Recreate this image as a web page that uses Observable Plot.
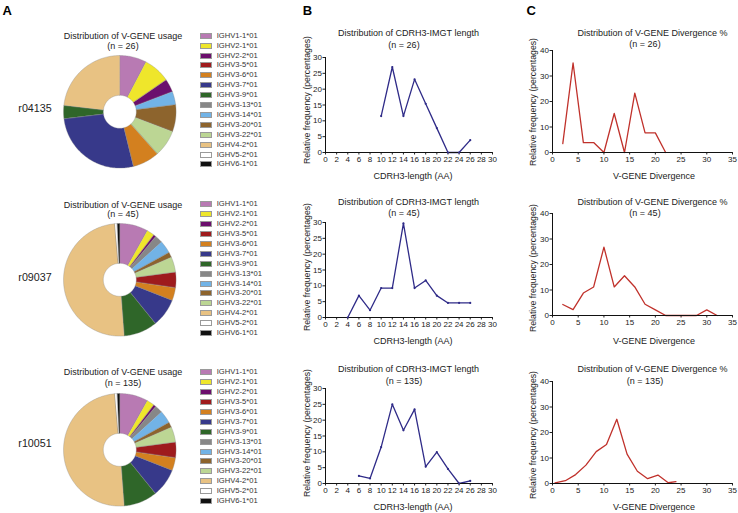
<!DOCTYPE html>
<html>
<head>
<meta charset="utf-8">
<script src="https://cdn.jsdelivr.net/npm/d3@7"></script>
<script src="https://cdn.jsdelivr.net/npm/@observablehq/plot@0.6"></script>
<style>
  html, body { margin: 0; padding: 0; background: #fff; }
  #fig { position: relative; width: 738px; height: 513px; overflow: hidden; background: #fff;
         font-family: "Liberation Sans", Arial, Helvetica, sans-serif; color: #222; }
  .t { position: absolute; white-space: nowrap; line-height: 1; transform: translate(-50%, -50%); }
  .abs { position: absolute; }
  .abs svg { overflow: visible; }
</style>
</head>
<body>
<div id="fig"></div>
<script>
// ---------------- DATA ----------------
const samples = ["r04135", "r09037", "r10051"];
const sampleN = [26, 45, 135];

// V-gene names (legend order) and colours
const genes = ["IGHV1-1*01","IGHV2-1*01","IGHV2-2*01","IGHV3-5*01","IGHV3-6*01","IGHV3-7*01","IGHV3-9*01",
               "IGHV3-13*01","IGHV3-14*01","IGHV3-20*01","IGHV3-22*01","IGHV4-2*01","IGHV5-2*01","IGHV6-1*01"];
const geneColors = ["#b87ab3","#efe62b","#6b0f6d","#9e1b1d","#d3801f","#37398a","#2f6629",
                    "#878787","#72b3e6","#8d642d","#bcd694","#e8c283","#ffffff","#111111"];

// V-gene usage (percent), legend order
const usage_r04135 = [7.7, 7.7, 3.8, 0, 7.7, 26.9, 3.8, 0, 3.8, 7.7, 7.7, 23.1, 0, 0];
const usage_r09037 = [8.1, 2.2, 0.7, 4.4, 3.7, 8.1, 9.6, 2.2, 3.7, 1.5, 4.4, 49.6, 0.7, 0.7];
const usage_r10051 = [8.1, 2.2, 0.7, 4.4, 3.7, 8.1, 9.6, 2.2, 3.7, 1.5, 4.4, 49.6, 0.7, 0.7];

// CDRH3 length distributions
const cdrLen_r04135  = [10, 12, 14, 16, 18, 20, 22, 24, 26];
const cdrFreq_r04135 = [11.5, 27.0, 11.5, 23.1, 15.4, 7.7, 0, 0, 3.9];
const cdrLen_r09037  = [4, 6, 8, 10, 12, 14, 16, 18, 20, 22, 24, 26];
const cdrFreq_r09037 = [0, 6.9, 2.3, 9.3, 9.3, 29.7, 9.3, 11.7, 6.9, 4.6, 4.6, 4.6];
const cdrLen_r10051  = [6, 8, 10, 12, 14, 16, 18, 20, 22, 24, 26];
const cdrFreq_r10051 = [2.4, 1.6, 11.5, 25.0, 16.8, 23.4, 5.3, 9.9, 4.6, 0, 0.8];

// V-gene divergence distributions
const div_r04135  = [2, 4, 6, 8, 10, 12, 14, 16, 18, 20, 22];
const divFreq_r04135 = [3.5, 35.1, 3.9, 3.9, 0, 15.3, 0, 23.3, 7.7, 7.7, 0];
const div_r09037  = [2, 4, 6, 8, 10, 12, 14, 16, 18, 20, 22, 24, 26, 28, 30, 32];
const divFreq_r09037 = [4.3, 2.3, 8.8, 11.2, 26.8, 11.2, 15.6, 11.2, 4.4, 2.2, 0, 0, 0, 0, 2.2, 0];
const div_r10051  = [0.5, 2.5, 4.5, 6.5, 8.5, 10.5, 12.5, 14.5, 16.5, 18.5, 20.5, 22.5, 24];
const divFreq_r10051 = [0.2, 1.1, 3.5, 7.2, 12.5, 15.3, 25.2, 11.5, 4.8, 1.9, 3.3, 0.3, 0.7];

// Tick labels
const cdrXTicks = d3.range(0, 31, 2);
const cdrYTicks = d3.range(0, 31, 5);
const divXTicks = d3.range(0, 36, 5);
const divYTicks = d3.range(0, 41, 10);

// Texts
const pieTitle = "Distribution of V-GENE usage";
const cdrTitle = "Distribution of CDRH3-IMGT length";
const divTitle = "Distribution of V-GENE Divergence %";
const cdrXLabel = "CDRH3-length (AA)";
const divXLabel = "V-GENE Divergence";
const yLabel = "Relative frequency (percentages)";

// ---------------- LAYOUT ----------------
const FONT = '"Liberation Sans", Arial, Helvetica, sans-serif';
const fig = document.getElementById("fig");
function txt(s, x, y, size, extra = {}) {
  const d = document.createElement("div");
  d.className = "t";
  d.textContent = s;
  d.style.left = x + "px";
  d.style.top = y + "px";
  d.style.fontSize = size + "px";
  Object.assign(d.style, extra);
  fig.appendChild(d);
  return d;
}
function place(node, left, top) {
  const w = document.createElement("div");
  w.className = "abs";
  w.style.left = left + "px";
  w.style.top = top + "px";
  w.appendChild(node);
  fig.appendChild(w);
}

const usage = [usage_r04135, usage_r09037, usage_r10051];
const cdrX = [cdrLen_r04135, cdrLen_r09037, cdrLen_r10051];
const cdrY = [cdrFreq_r04135, cdrFreq_r09037, cdrFreq_r10051];
const divX = [div_r04135, div_r09037, div_r10051];
const divY = [divFreq_r04135, divFreq_r09037, divFreq_r10051];

const pieCenters = [[119.5, 111.5], [119.7, 279.2], [119.7, 449.2]];
const pieR = 56.3, pieR0 = 16.5;
const pieTitleY = [36, 205, 372.3], pieNY = [45.7, 214.3, 382.7];
const rowLabelY = [108.3, 276.7, 443.3];
const legendY0 = [35.7, 204.3, 372.3], legendStep = 9.9;

const B = {left: 325, right: 492, rows: [[57, 152], [222, 317], [388, 483]],
           titleY: [33.3, 202.3, 369.3], nY: [44.5, 213.3, 381], xLabY: [176, 341, 506.5], yLabY: [100, 266.7, 433]};
const C = {left: 552, right: 732, rows: [[50, 152], [213, 315], [381, 483]],
           titleY: [33.3, 202.3, 369.3], nY: [44.3, 213, 381], xLabY: [176, 341, 506.7], yLabY: [101.7, 267.5, 435]};

// panel letters
txt("A", 7.2, 10, 13, {fontWeight: "bold", color: "#000"});
txt("B", 307.5, 10, 13, {fontWeight: "bold", color: "#000"});
txt("C", 531.3, 10, 13, {fontWeight: "bold", color: "#000"});

// ---------------- PIE (donut) via Plot.geo ----------------
function ringPoint(a, r) { return [Math.sin(a) * r, -Math.cos(a) * r]; }
function donut(values) {
  // slices drawn clockwise from 12 o'clock in alphabetical gene order
  const order = d3.range(genes.length).sort((i, j) => d3.ascending(genes[i], genes[j]));
  const total = d3.sum(values);
  const k = pieR0 / pieR;
  let acc = 0;
  const features = [];
  for (const i of order) {
    const v = values[i];
    if (!(v > 0)) continue;
    const a0 = acc / total * 2 * Math.PI;
    acc += v;
    const a1 = acc / total * 2 * Math.PI;
    const n = Math.max(2, Math.ceil((a1 - a0) / (Math.PI / 180)));
    const outer = d3.range(n + 1).map(s => ringPoint(a0 + (a1 - a0) * s / n, 1));
    const inner = d3.range(n + 1).map(s => ringPoint(a1 - (a1 - a0) * s / n, k));
    const ring = outer.concat(inner);
    ring.push(ring[0]);
    features.push({type: "Feature", properties: {gene: genes[i], color: geneColors[i]},
                   geometry: {type: "Polygon", coordinates: [ring]}});
  }
  const circle = {type: "Polygon", coordinates: [d3.range(361).map(s => ringPoint(s * Math.PI / 180, 1))]};
  const size = 2 * pieR + 4;
  return Plot.plot({
    width: size, height: size, margin: 2,
    projection: {type: "identity", domain: circle},
    color: {type: "identity"},
    style: {background: "transparent", overflow: "visible"},
    marks: [
      Plot.geo({type: "FeatureCollection", features}, {fill: d => d.properties.color, stroke: "#8a8a8a", strokeWidth: 0.35})
    ]
  });
}

// ---------------- LINE CHARTS ----------------
function linePlot(frame, row, xs, ys, xDomain, yDomain, xTicks, yTicks, color, dots) {
  const [top, bottom] = frame.rows[row];
  const ml = 26, mr = 6, mt = 4, mb = 14;
  const data = xs.map((x, i) => ({x, y: ys[i]}));
  const marks = [
    Plot.axisX({ticks: xTicks, tickSize: 2.5, tickPadding: 1.5, label: null, fontSize: 8}),
    Plot.axisY({ticks: yTicks, tickSize: 2.5, tickPadding: 1, label: null, fontSize: 8}),
    Plot.line(data, {x: "x", y: "y", stroke: color, strokeWidth: 1.3}),
    Plot.ruleX([xDomain[0]], {stroke: "#111", strokeWidth: 1}),
    Plot.ruleY([yDomain[0]], {stroke: "#111", strokeWidth: 1})
  ];
  if (dots) marks.push(Plot.dot(data, {x: "x", y: "y", r: 1.1, fill: color, stroke: null}));
  const p = Plot.plot({
    width: frame.right - frame.left + ml + mr,
    height: bottom - top + mt + mb,
    marginLeft: ml, marginRight: mr, marginTop: mt, marginBottom: mb,
    x: {domain: xDomain},
    y: {domain: yDomain},
    style: {fontFamily: FONT, fontSize: "8px", color: "#222", background: "transparent", overflow: "visible"},
    marks
  });
  place(p, frame.left - ml, top - mt);
}

for (let r = 0; r < 3; r++) {
  // Panel A
  const [cx, cy] = pieCenters[r];
  place(donut(usage[r]), cx - pieR - 2, cy - pieR - 2);
  txt(pieTitle, 123, pieTitleY[r], 9);
  txt(`(n = ${sampleN[r]})`, 123, pieNY[r], 9);
  txt(samples[r], 35, rowLabelY[r], 10.7);
  genes.forEach((g, i) => {
    const y = legendY0[r] + i * legendStep;
    const sw = document.createElement("div");
    sw.className = "abs";
    Object.assign(sw.style, {left: "200px", top: (y - 3) + "px", width: "11.7px", height: "6px",
      background: geneColors[i], boxSizing: "border-box", border: "0.5px solid #9a9a9a"});
    fig.appendChild(sw);
    const t = txt(g, 216.7, y, 7.6, {transform: "translate(0,-50%)", color: "#333"});
  });

  // Panel B
  linePlot(B, r, cdrX[r], cdrY[r], [0, 30], [0, 30], cdrXTicks, cdrYTicks, "#2f2b88", true);
  txt(cdrTitle, 408.5, B.titleY[r], 9);
  txt(`(n = ${sampleN[r]})`, 404, B.nY[r], 9);
  txt(cdrXLabel, 413, B.xLabY[r], 9);
  txt(yLabel, 306.7, B.yLabY[r], 8.7, {transform: "translate(-50%,-50%) rotate(-90deg)"});

  // Panel C
  linePlot(C, r, divX[r], divY[r], [0, 35], [0, 40], divXTicks, divYTicks, "#c0312b", false);
  txt(divTitle, 652.5, C.titleY[r], 9);
  txt(`(n = ${sampleN[r]})`, 645, C.nY[r], 9);
  txt(divXLabel, 654, C.xLabY[r], 9);
  txt(yLabel, 533.3, C.yLabY[r], 8.7, {transform: "translate(-50%,-50%) rotate(-90deg)"});
}
</script>
</body>
</html>
